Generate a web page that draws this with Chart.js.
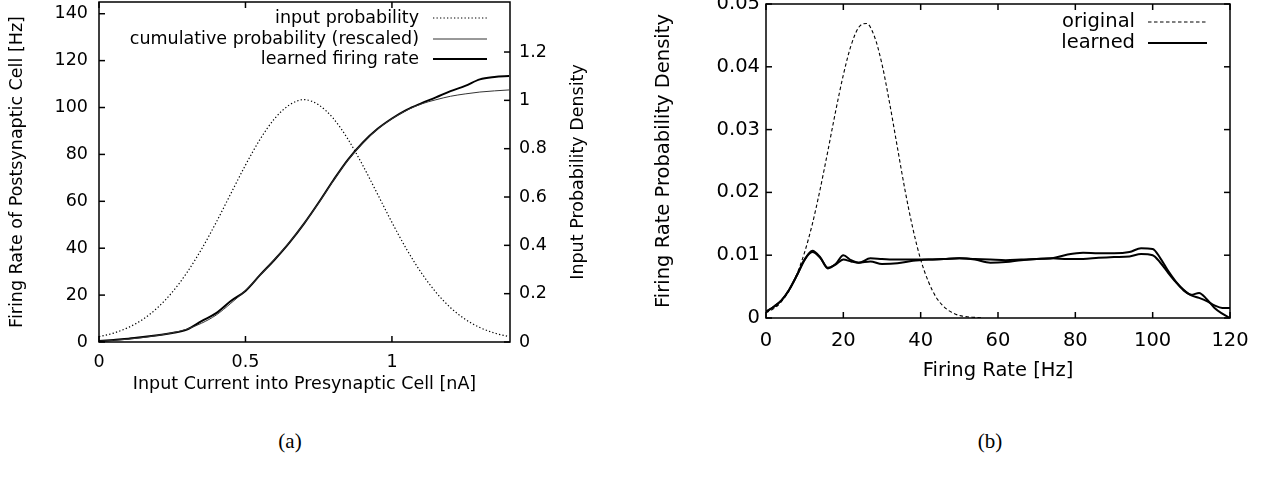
<!DOCTYPE html>
<html><head><meta charset="utf-8">
<script src="https://cdn.jsdelivr.net/npm/chart.js@4"></script>
<style>
body{margin:0;background:#fff;width:1261px;height:482px;overflow:hidden;position:relative}
#ca{position:absolute;left:0;top:0}
#cb{position:absolute;left:630px;top:0}
.cap{position:absolute;top:429px;width:80px;text-align:center;font-family:"Liberation Serif","DejaVu Serif",serif;font-size:21px;color:#000;line-height:24px}
</style></head>
<body>
<canvas id="ca" width="630" height="400"></canvas>
<canvas id="cb" width="631" height="400"></canvas>
<div class="cap" style="left:250px">(a)</div>
<div class="cap" style="left:950px">(b)</div>
<script>
// ---------- panel (a) ----------
const xA = [0,0.05,0.1,0.15,0.2,0.25,0.3,0.35,0.4,0.45,0.5,0.55,0.6,0.65,0.7,0.75,0.8,0.85,0.9,0.95,1.0,1.05,1.1,1.15,1.2,1.25,1.3,1.35,1.4];
const inputProbability = [0.022,0.037,0.060,0.094,0.142,0.206,0.287,0.384,0.495,0.614,0.732,0.839,0.925,0.981,1.003,0.981,0.925,0.839,0.732,0.614,0.495,0.384,0.287,0.206,0.142,0.094,0.060,0.037,0.022];
const cumulativeRescaled = [0.3,0.7,1.2,1.9,2.8,3.9,5.5,8.0,11.5,16.5,22.0,28.5,35.3,42.5,50.5,59.3,68.8,77.6,84.9,90.7,95.2,98.8,101.5,103.3,104.8,105.8,106.6,107.1,107.5];
const learnedRate = [0.4,0.9,1.4,2.1,2.9,3.8,5.3,8.9,12.3,17.5,21.8,28.6,35.2,42.4,50.5,59.5,69.0,77.8,85.0,90.8,95.3,99.0,101.8,104.3,107.0,109.2,112.0,113.0,113.4];
const xTicksA = [0,0.5,1];
const yTicksA = [0,20,40,60,80,100,120,140];
const y2TicksA = [0,0.2,0.4,0.6,0.8,1,1.2];

// ---------- panel (b) ----------
const xOrig = [0,2,4,6,8,10,12,14,16,18,20,22,24,26,28,30,32,34,36,38,40,42,44,46,48,50,52,54,56];
const original = [0.0008,0.0015,0.0026,0.0044,0.0070,0.0105,0.0150,0.0205,0.0266,0.0329,0.0387,0.0434,0.0463,0.0469,0.0449,0.0404,0.0341,0.0271,0.0202,0.0142,0.0093,0.0058,0.0033,0.0018,0.0009,0.0004,0.0002,0.0001,0];
const xLearn = [0,2,4,6,8,10,12,14,16,18,20,22,24,27,30,34,38,42,46,50,54,58,62,66,70,74,78,82,86,90,94,97,100,102,104,106,108,110,112,114,116,118,120];
const learnedA = [0.0010,0.0018,0.0028,0.0045,0.0068,0.0093,0.0107,0.0097,0.0079,0.0086,0.0100,0.0092,0.0088,0.0095,0.0094,0.0093,0.0093,0.0093,0.0094,0.0095,0.0094,0.0093,0.0092,0.0093,0.0094,0.0095,0.0101,0.0104,0.0103,0.0103,0.0105,0.0111,0.0110,0.0095,0.0075,0.0058,0.0045,0.0037,0.0040,0.0030,0.0016,0.0007,0.0000];
const learnedB = [0.0010,0.0018,0.0028,0.0045,0.0068,0.0093,0.0105,0.0096,0.0080,0.0085,0.0093,0.0090,0.0088,0.0090,0.0086,0.0087,0.0091,0.0093,0.0094,0.0095,0.0093,0.0088,0.0089,0.0092,0.0094,0.0095,0.0094,0.0094,0.0096,0.0097,0.0098,0.0102,0.0100,0.0088,0.0072,0.0057,0.0044,0.0036,0.0032,0.0027,0.0020,0.0016,0.0016];
const xTicksB = [0,20,40,60,80,100,120];
const yTicksB = [0,0.01,0.02,0.03,0.04,0.05];

Chart.defaults.font.family = '"DejaVu Sans", "Liberation Sans", sans-serif';
Chart.defaults.color = '#000';

const pts = (xs, ys) => xs.map((x, i) => ({x: x, y: ys[i]}));
const setTicks = arr => s => { s.ticks = arr.map(v => ({value: v})); };
const fixW = w => s => { s.width = w; s.paddingTop = 0; s.paddingBottom = 0; };
const fixH = h => s => { s.height = h; s.paddingLeft = 0; s.paddingRight = 0; };

// box + inward tick marks
const frame = {
  id: 'frame',
  afterDraw(chart, args, opts) {
    const {ctx, chartArea: a} = chart;
    ctx.save();
    ctx.strokeStyle = '#000';
    ctx.lineWidth = 1.5;
    ctx.strokeRect(a.left, a.top, a.right - a.left, a.bottom - a.top);
    const L = opts.len || 6;
    (opts.marks || []).forEach(m => {
      const s = chart.scales[m.scale];
      s.ticks.forEach(t => {
        const p = s.getPixelForValue(t.value);
        m.sides.forEach(side => {
          ctx.beginPath();
          if (side === 'bottom') { ctx.moveTo(p, a.bottom); ctx.lineTo(p, a.bottom - L); }
          if (side === 'top') { ctx.moveTo(p, a.top); ctx.lineTo(p, a.top + L); }
          if (side === 'left') { ctx.moveTo(a.left, p); ctx.lineTo(a.left + L, p); }
          if (side === 'right') { ctx.moveTo(a.right, p); ctx.lineTo(a.right - L, p); }
          ctx.stroke();
        });
      });
    });
    ctx.restore();
  }
};

// gnuplot-style key: text right-aligned, sample line after it
const key = {
  id: 'key',
  afterDraw(chart, args, opts) {
    const ctx = chart.ctx;
    ctx.save();
    ctx.font = opts.size + 'px ' + Chart.defaults.font.family;
    ctx.fillStyle = '#000';
    ctx.textAlign = 'right';
    ctx.textBaseline = 'middle';
    let row = 0;
    chart.data.datasets.forEach(ds => {
      if (ds.inKey === false) return;
      const y = opts.rows[row++];
      ctx.fillText(ds.label, opts.textRight, y);
      ctx.beginPath();
      ctx.strokeStyle = ds.borderColor;
      ctx.lineWidth = ds.borderWidth;
      ctx.setLineDash(ds.borderDash || []);
      ctx.moveTo(opts.x1, y);
      ctx.lineTo(opts.x2, y);
      ctx.stroke();
      ctx.setLineDash([]);
    });
    ctx.restore();
  }
};

// rotated (bottom-to-top) title for the right axis
const sideTitle = {
  id: 'sideTitle',
  afterDraw(chart, args, opts) {
    if (!opts.text) return;
    const {ctx, chartArea: a} = chart;
    ctx.save();
    ctx.font = opts.size + 'px ' + Chart.defaults.font.family;
    ctx.fillStyle = '#000';
    ctx.textAlign = 'center';
    ctx.textBaseline = 'middle';
    ctx.translate(opts.x, (a.top + a.bottom) / 2);
    ctx.rotate(-Math.PI / 2);
    ctx.fillText(opts.text, 0, 0);
    ctx.restore();
  }
};

const noGrid = {display: false, drawTicks: false};
const FA = 17.5;
new Chart(document.getElementById('ca'), {
  type: 'line',
  data: {datasets: [
    {label: 'input probability', data: pts(xA, inputProbability), yAxisID: 'y2',
     borderColor: '#000', borderWidth: 1.2, borderDash: [1.3, 2.2], pointRadius: 0, cubicInterpolationMode: 'monotone'},
    {label: 'cumulative probability (rescaled)', data: pts(xA, cumulativeRescaled), yAxisID: 'y',
     borderColor: '#333', borderWidth: 1, pointRadius: 0, cubicInterpolationMode: 'monotone'},
    {label: 'learned firing rate', data: pts(xA, learnedRate), yAxisID: 'y',
     borderColor: '#000', borderWidth: 2, pointRadius: 0, cubicInterpolationMode: 'monotone'}
  ]},
  options: {
    responsive: false, animation: false, events: [],
    layout: {padding: {top: 2, left: 0, right: 0, bottom: 0}},
    plugins: {
      legend: {display: false}, tooltip: {enabled: false},
      frame: {marks: [{scale: 'x', sides: ['bottom', 'top']}, {scale: 'y', sides: ['left']}, {scale: 'y2', sides: ['right']}]},
      key: {size: FA, textRight: 419, x1: 433, x2: 487, rows: [18, 39, 59]},
      sideTitle: {text: 'Input Probability Density', x: 578, size: FA}
    },
    scales: {
      x: {type: 'linear', min: 0, max: 1.403,
          afterBuildTicks: setTicks(xTicksA), afterFit: fixH(58),
          grid: noGrid, border: {display: false},
          ticks: {padding: 10, maxRotation: 0, autoSkip: false, font: {size: FA}, callback: v => String(v)},
          title: {display: true, text: 'Input Current into Presynaptic Cell [nA]', font: {size: FA}, padding: {top: 0, bottom: 5}}},
      y: {type: 'linear', position: 'left', min: 0, max: 145,
          afterBuildTicks: setTicks(yTicksA), afterFit: fixW(99),
          grid: noGrid, border: {display: false},
          ticks: {padding: 11, autoSkip: false, font: {size: FA}, callback: v => String(v)},
          title: {display: true, text: 'Firing Rate of Postsynaptic Cell [Hz]', font: {size: FA}, padding: {top: 7, bottom: 0}}},
      y2: {type: 'linear', position: 'right', min: 0, max: 1.407,
          afterBuildTicks: setTicks(y2TicksA), afterFit: fixW(120),
          grid: noGrid, border: {display: false},
          ticks: {padding: 9, autoSkip: false, font: {size: FA}, callback: v => String(v)}}
    }
  },
  plugins: [frame, key, sideTitle]
});

const FB = 19.5;
new Chart(document.getElementById('cb'), {
  type: 'line',
  data: {datasets: [
    {label: 'original', data: pts(xOrig, original),
     borderColor: '#000', borderWidth: 1.1, borderDash: [3.5, 2.5], pointRadius: 0, cubicInterpolationMode: 'monotone'},
    {label: 'learned', data: pts(xLearn, learnedA),
     borderColor: '#000', borderWidth: 2, pointRadius: 0, cubicInterpolationMode: 'monotone'},
    {label: 'learned', inKey: false, data: pts(xLearn, learnedB),
     borderColor: '#000', borderWidth: 2, pointRadius: 0, cubicInterpolationMode: 'monotone'}
  ]},
  options: {
    responsive: false, animation: false, events: [],
    layout: {padding: {top: 4, left: 0, right: 31, bottom: 0}},
    plugins: {
      legend: {display: false}, tooltip: {enabled: false},
      frame: {marks: [{scale: 'x', sides: ['bottom', 'top']}, {scale: 'y', sides: ['left', 'right']}]},
      key: {size: FB, textRight: 505, x1: 518, x2: 577, rows: [22, 43]}
    },
    scales: {
      x: {type: 'linear', min: 0, max: 120,
          afterBuildTicks: setTicks(xTicksB), afterFit: fixH(82),
          grid: noGrid, border: {display: false},
          ticks: {padding: 11, maxRotation: 0, autoSkip: false, font: {size: FB}, callback: v => String(v)},
          title: {display: true, text: 'Firing Rate [Hz]', font: {size: FB}, padding: {top: 0, bottom: 17}}},
      y: {type: 'linear', position: 'left', min: 0, max: 0.05,
          afterBuildTicks: setTicks(yTicksB), afterFit: fixW(136),
          grid: noGrid, border: {display: false},
          ticks: {padding: 6, autoSkip: false, font: {size: FB}, callback: v => String(v)},
          title: {display: true, text: 'Firing Rate Probability Density', font: {size: FB}, padding: {top: 22, bottom: 0}}}
    }
  },
  plugins: [frame, key]
});
</script>
</body></html>
